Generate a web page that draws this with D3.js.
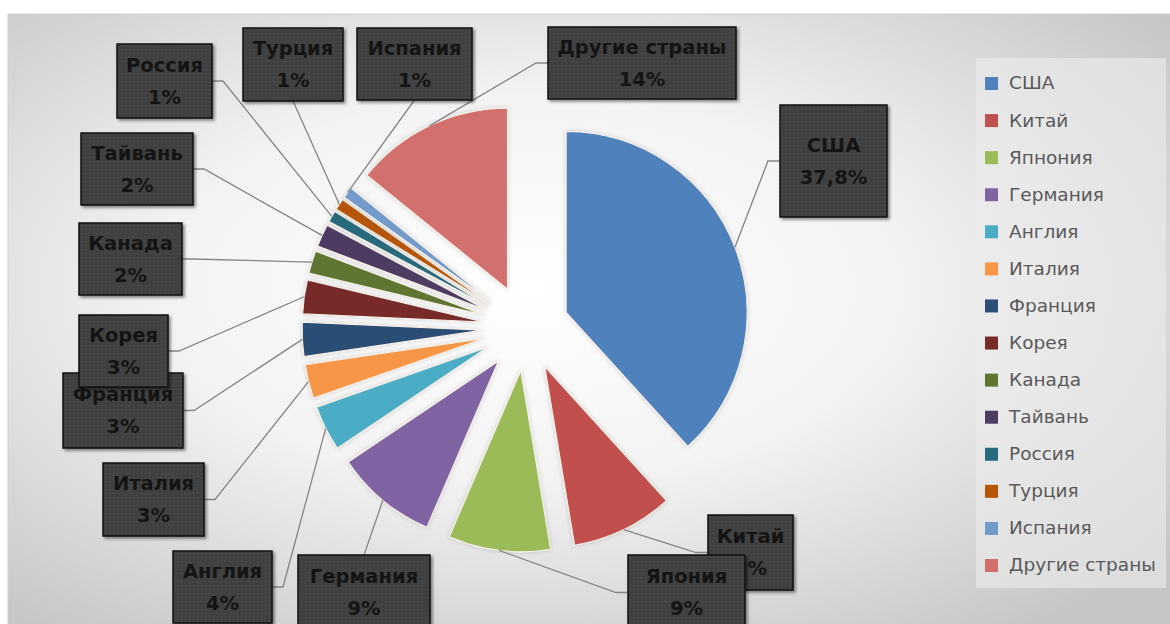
<!DOCTYPE html>
<html><head><meta charset="utf-8">
<script src="https://cdn.jsdelivr.net/npm/d3@7"></script>
<style>html,body{margin:0;padding:0;background:#fff;}svg{display:block;}</style>
</head><body>
<svg id="c" width="1170" height="624"></svg>
<script>
// ---- data ----
const categories = ["США","Китай","Япнония","Германия","Англия","Италия","Франция","Корея","Канада","Тайвань","Россия","Турция","Испания","Другие страны"];
const values = [37.8, 9, 9, 9, 4, 3, 3, 3, 2, 2, 1, 1, 1, 14];
const valueLabels = ["37,8%","9%","9%","9%","4%","3%","3%","3%","2%","2%","1%","1%","1%","14%"];
const colors = ["#4F81BD","#C0504D","#9BBB59","#8064A2","#4BACC6","#F79646","#2C4D75","#772C2A","#5F7530","#4D3B62","#276A7C","#B65708","#729ACA","#D26F6D"];
const labelNames = ["США","Китай","Япония","Германия","Англия","Италия","Франция","Корея","Канада","Тайвань","Россия","Турция","Испания","Другие страны"];

// ---- layout (positions of label boxes, not data) ----
const labelBoxes = [
  {x:780,y:105,w:107,h:112,side:"left"},
  {x:708,y:515,w:85,h:75,side:"left"},
  {x:628,y:555,w:117,h:75,side:"left"},
  {x:298,y:555,w:132,h:75,side:"top"},
  {x:173,y:551,w:99,h:72,side:"right"},
  {x:103,y:463,w:101,h:73,side:"right"},
  {x:63,y:373,w:120,h:75,side:"right"},
  {x:79,y:315,w:89,h:72,side:"right"},
  {x:79,y:223,w:103,h:72,side:"right"},
  {x:81,y:133,w:112,h:72,side:"right"},
  {x:117,y:44,w:95,h:74,side:"right"},
  {x:243,y:28,w:100,h:73,side:"bottom"},
  {x:357,y:28,w:115,h:72,side:"bottom"},
  {x:548,y:27,w:188,h:72,side:"left"}
];
const cx = 526, cy = 328, R = 181, explode = 43;

const svg = d3.select("#c");
const defs = svg.append("defs");
const rg = defs.append("radialGradient").attr("id","bg").attr("cx","45%").attr("cy","45%").attr("r","70%");
rg.append("stop").attr("offset","0%").attr("stop-color","#ffffff");
rg.append("stop").attr("offset","45%").attr("stop-color","#f3f3f3");
rg.append("stop").attr("offset","100%").attr("stop-color","#c6c6c6");
const pat = defs.append("pattern").attr("id","dots").attr("width",4).attr("height",4).attr("patternUnits","userSpaceOnUse");
pat.append("rect").attr("width",4).attr("height",4).attr("fill","#3f3f3f");
pat.append("rect").attr("x",1).attr("y",1).attr("width",1).attr("height",1).attr("fill","#535353");
const sh = defs.append("filter").attr("id","sh").attr("x","-20%").attr("y","-20%").attr("width","150%").attr("height","150%");
sh.append("feDropShadow").attr("dx",2).attr("dy",2).attr("stdDeviation",1.5).attr("flood-color","#000").attr("flood-opacity",0.45);
const glow = defs.append("filter").attr("id","glow").attr("x","-20%").attr("y","-20%").attr("width","140%").attr("height","140%");
glow.append("feDropShadow").attr("dx",0).attr("dy",0).attr("stdDeviation",2).attr("flood-color","#000").attr("flood-opacity",0.18);

// background
svg.append("rect").attr("x",8).attr("y",14).attr("width",1162).attr("height",610).attr("fill","url(#bg)");
svg.append("line").attr("x1",8).attr("x2",1170).attr("y1",14).attr("y2",14).attr("stroke","#d0d0d0");
svg.append("line").attr("x1",8).attr("x2",8).attr("y1",14).attr("y2",624).attr("stroke","#d0d0d0");

// pie
const pie = d3.pie().sort(null).value(d => d)(values);
const arc = d3.arc().innerRadius(0).outerRadius(R);
const g = svg.append("g").attr("transform",`translate(${cx},${cy})`);
function dir(d){ const a=(d.startAngle+d.endAngle)/2; return [Math.sin(a), -Math.cos(a)]; }
g.selectAll("path.slice").data(pie).join("path")
  .attr("class","slice")
  .attr("d",arc)
  .attr("transform",d=>{const [dx,dy]=dir(d);return `translate(${dx*explode},${dy*explode})`;})
  .attr("fill",(d,i)=>colors[i])
  .attr("stroke","#f6efe6").attr("stroke-width",1.2)
  .attr("filter","url(#glow)");

// leader lines
const lines = svg.append("g");
pie.forEach((d,i)=>{
  const [dx,dy]=dir(d);
  const ax = cx + dx*(explode+R), ay = cy + dy*(explode+R);
  const b = labelBoxes[i];
  let pts;
  if (b.side==="right"){ const y=b.y+b.h/2; pts=[[ax,ay],[b.x+b.w+11,y],[b.x+b.w,y]]; }
  else if (b.side==="left"){ const y=b.y+b.h/2; pts=[[ax,ay],[b.x-12,y],[b.x,y]]; }
  else if (b.side==="bottom"){ pts=[[ax,ay],[b.x+b.w/2,b.y+b.h]]; }
  else { pts=[[ax,ay],[b.x+b.w/2,b.y]]; }
  lines.append("path").attr("d",d3.line()(pts)).attr("fill","none").attr("stroke","#858585").attr("stroke-width",1.3);
});

// label boxes
const lb = svg.append("g");
labelBoxes.forEach((b,i)=>{
  const gg = lb.append("g");
  gg.append("rect").attr("x",b.x).attr("y",b.y).attr("width",b.w).attr("height",b.h)
    .attr("fill","url(#dots)").attr("stroke","#111").attr("stroke-width",1.5).attr("filter","url(#sh)");
  const mx=b.x+b.w/2, my=b.y+b.h/2;
  gg.append("text").attr("x",mx).attr("y",my-16).attr("dy","0.35em").attr("text-anchor","middle")
    .attr("font-family","DejaVu Sans").attr("font-weight","bold").attr("font-size",19.5).attr("fill","#141414").text(labelNames[i]);
  gg.append("text").attr("x",mx).attr("y",my+16).attr("dy","0.35em").attr("text-anchor","middle")
    .attr("font-family","DejaVu Sans").attr("font-weight","bold").attr("font-size",19.5).attr("fill","#141414").text(valueLabels[i]);
});

// legend
const lg = svg.append("g");
lg.append("rect").attr("x",976).attr("y",58).attr("width",190).attr("height",530).attr("fill","#ececec").attr("opacity",0.6);
const ly = d3.scalePoint().domain(categories).range([83,565]);
categories.forEach((c,i)=>{
  lg.append("rect").attr("x",985).attr("y",ly(c)-6).attr("width",13).attr("height",13).attr("fill",colors[i]);
  lg.append("text").attr("x",1009).attr("y",ly(c)).attr("dy","0.35em")
    .attr("font-family","DejaVu Sans").attr("font-size",18.5).attr("fill","#595959").text(c);
});
</script>
</body></html>
